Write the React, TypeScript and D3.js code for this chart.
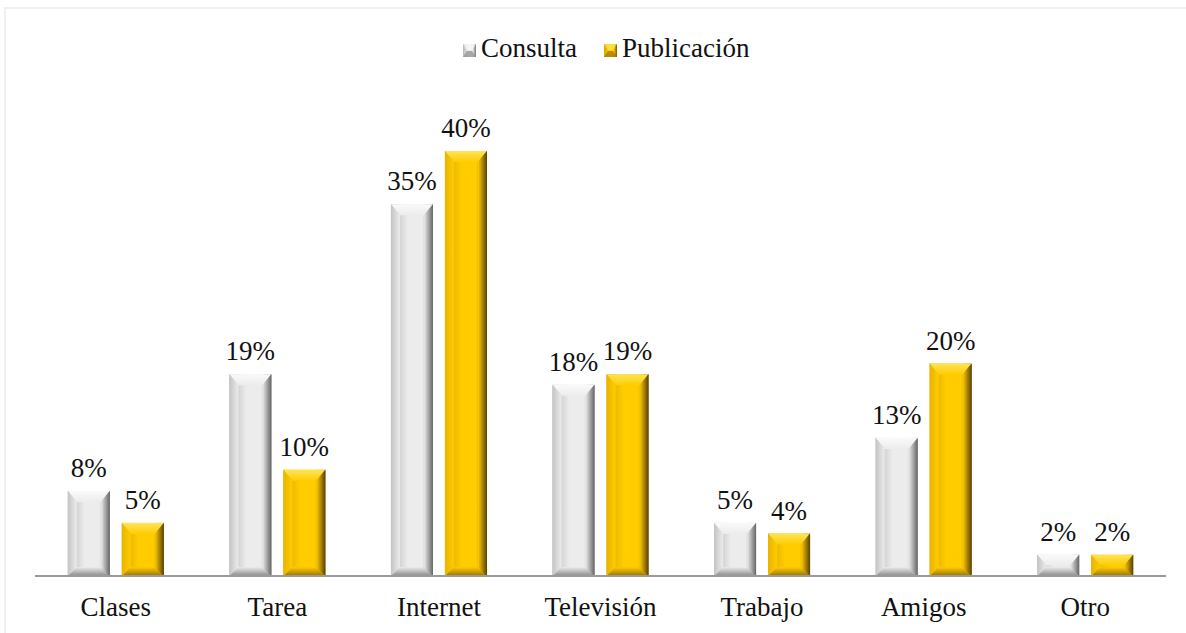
import React from "react";
import * as d3 from "d3";

const categories = ["Clases", "Tarea", "Internet", "Televisión", "Trabajo", "Amigos", "Otro"];
const seriesNames = ["Consulta", "Publicación"];
const consulta = [8, 19, 35, 18, 5, 13, 2];
const publicacion = [5, 10, 40, 19, 4, 20, 2];

const W = 1186;
const H = 633;
const left = 35;
const right = 1166;
const baseY = 576;
const pxPerUnit = 10.625;
const FONT = "Liberation Serif, Tinos, Times New Roman, DejaVu Serif, serif";

const palettes = [
  { id: "g", edgeL: "#b8b8b8", mid: "#ececec", edgeR: "#777777", top: "#fafafa", bottom: "#8a8a8a", side: "#c4c4c4", rside: "#666666" },
  { id: "y", edgeL: "#d9a800", mid: "#ffcc00", edgeR: "#775800", top: "#ffe45a", bottom: "#9a7400", side: "#e8b400", rside: "#5a4200" },
];

export default function App() {
  const x = d3.scaleBand<string>().domain(categories).range([left, right]).paddingInner(0).paddingOuter(0);
  const inner = d3.scaleBand<string>().domain(seriesNames).range([0, 96]).paddingInner(12 / 54).paddingOuter(0);
  const y = d3.scaleLinear().domain([0, 40]).range([baseY, baseY - 40 * pxPerUnit]);
  const values = [consulta, publicacion];

  const bars: JSX.Element[] = [];
  categories.forEach((c, i) => {
    const gx = (x(c) as number) + x.bandwidth() / 2 - 48;
    values.forEach((vals, s) => {
      const v = vals[i];
      const x0 = gx + (inner(seriesNames[s]) as number);
      const w = inner.bandwidth();
      const x1 = x0 + w;
      const y0 = y(v);
      const y1 = baseY;
      const h = y1 - y0;
      const p = palettes[s];
      const bs = Math.min(9, w / 2 - 2);
      const bt = Math.min(11, h / 2);
      const bb = Math.min(9, h / 2);
      bars.push(
        <g key={`${c}-${s}`}>
          <rect x={x0} y={y0} width={w} height={h} fill={`url(#face-${p.id})`} />
          <polygon points={`${x0},${y0} ${x1},${y0} ${x1 - bs},${y0 + bt} ${x0 + bs},${y0 + bt}`} fill={`url(#top-${p.id})`} />
          <polygon points={`${x0},${y1} ${x1},${y1} ${x1 - bs},${y1 - bb} ${x0 + bs},${y1 - bb}`} fill={`url(#bot-${p.id})`} />
          <polygon points={`${x0},${y0} ${x0 + bs},${y0 + bt} ${x0 + bs},${y1 - bb} ${x0},${y1}`} fill={`url(#ls-${p.id})`} />
          <polygon points={`${x1},${y0} ${x1 - bs},${y0 + bt} ${x1 - bs},${y1 - bb} ${x1},${y1}`} fill={`url(#rs-${p.id})`} />
          <text x={(x0 + x1) / 2} y={y0 - 14} textAnchor="middle" style={{ fontFamily: FONT }} fontSize={27} fill="#111">{`${v}%`}</text>
        </g>
      );
    });
  });

  return (
    <svg width={W} height={H} style={{ position: "absolute", left: 0, top: 0, background: "#fff" }}>
      <defs>
        {palettes.map((p) => (
          <React.Fragment key={p.id}>
            <linearGradient id={`face-${p.id}`} x1="0" x2="1" y1="0" y2="0">
              <stop offset="0" stopColor={p.edgeL} />
              <stop offset="0.4" stopColor={p.mid} />
              <stop offset="0.75" stopColor={p.mid} />
              <stop offset="1" stopColor={p.edgeR} />
            </linearGradient>
            <linearGradient id={`top-${p.id}`} x1="0" x2="0" y1="0" y2="1">
              <stop offset="0" stopColor={p.top} />
              <stop offset="1" stopColor={p.mid} />
            </linearGradient>
            <linearGradient id={`bot-${p.id}`} x1="0" x2="0" y1="0" y2="1">
              <stop offset="0" stopColor={p.mid} />
              <stop offset="1" stopColor={p.bottom} />
            </linearGradient>
            <linearGradient id={`ls-${p.id}`} x1="0" x2="1" y1="0" y2="0">
              <stop offset="0" stopColor={p.side} />
              <stop offset="1" stopColor={p.mid} />
            </linearGradient>
            <linearGradient id={`rs-${p.id}`} x1="0" x2="1" y1="0" y2="0">
              <stop offset="0" stopColor={p.mid} />
              <stop offset="1" stopColor={p.rside} />
            </linearGradient>
          </React.Fragment>
        ))}
      </defs>
      <rect x={5} y={8} width={W + 10} height={H + 10} fill="none" stroke="#ececec" strokeWidth={1.5} />
      {bars}
      <line x1={left} x2={right} y1={baseY} y2={baseY} stroke="#9a9a9a" strokeWidth={2} />
      {categories.map((c) => (
        <text key={c} x={(x(c) as number) + x.bandwidth() / 2} y={616} textAnchor="middle" style={{ fontFamily: FONT }} fontSize={27} fill="#111">{c}</text>
      ))}
      {seriesNames.map((n, s) => {
        const lx = s === 0 ? 463 : 604;
        const ly = 44;
        const sz = 13;
        const p = palettes[s];
        return (
          <g key={n}>
            <rect x={lx} y={ly} width={sz} height={sz} fill={`url(#face-${p.id})`} />
            <polygon points={`${lx},${ly} ${lx + sz},${ly} ${lx + sz - 4},${ly + 6} ${lx + 4},${ly + 6}`} fill={p.top} opacity={0.7} />
            <polygon points={`${lx},${ly + sz} ${lx + sz},${ly + sz} ${lx + sz - 4},${ly + 7} ${lx + 4},${ly + 7}`} fill={p.bottom} opacity={0.7} />
            <text x={lx + 18} y={57} style={{ fontFamily: FONT }} fontSize={27} fill="#111">{n}</text>
          </g>
        );
      })}
    </svg>
  );
}
